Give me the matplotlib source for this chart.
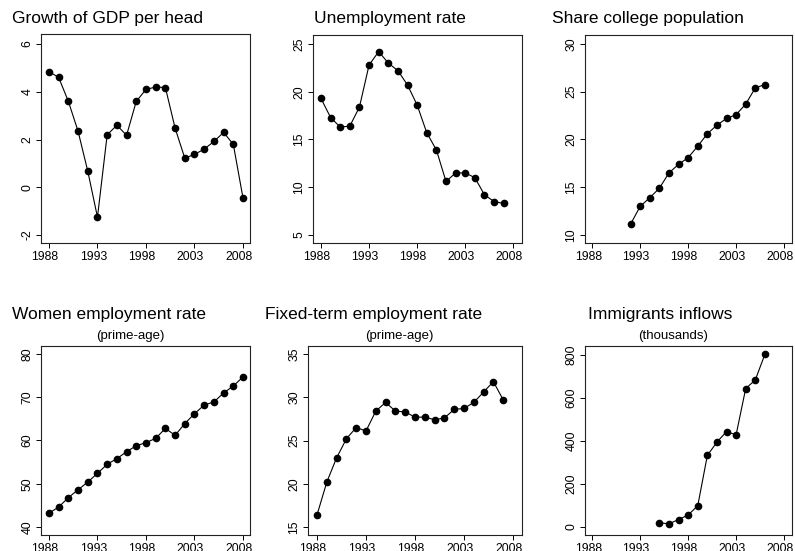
import numpy as np
import matplotlib
matplotlib.use("Agg")
from matplotlib import pyplot as plt
from matplotlib.transforms import ScaledTranslation

plt.rcParams["font.family"] = ["Liberation Sans", "DejaVu Sans"]
plt.rcParams["axes.unicode_minus"] = False

# annual series
gdp_years = list(range(1988, 2009))
gdp_growth = [4.85, 4.6, 3.6, 2.35, 0.68, -1.25, 2.2, 2.6, 2.18, 3.6, 4.1,
              4.2, 4.18, 2.48, 1.22, 1.38, 1.6, 1.92, 2.3, 1.8, -0.45]

unemp_years = list(range(1988, 2008))
unemp_rate = [19.3, 17.3, 16.3, 16.4, 18.4, 22.8, 24.2, 23.0, 22.2, 20.7,
              18.6, 15.7, 13.9, 10.6, 11.5, 11.5, 11.0, 9.2, 8.5, 8.3]

college_years = list(range(1992, 2007))
college_share = [11.15, 13.0, 13.9, 14.9, 16.5, 17.4, 18.1, 19.3, 20.6, 21.5,
                 22.2, 22.6, 23.7, 25.4, 25.75]

women_years = list(range(1988, 2009))
women_emp = [43.2, 44.6, 46.8, 48.6, 50.4, 52.4, 54.5, 55.8, 57.4, 58.8, 59.5,
             60.5, 62.8, 61.2, 63.9, 66.2, 68.2, 68.9, 71.0, 72.6, 74.7]

fixed_years = list(range(1988, 2008))
fixed_emp = [16.4, 20.2, 23.0, 25.2, 26.5, 26.1, 28.4, 29.4, 28.4, 28.3,
             27.7, 27.7, 27.4, 27.6, 28.6, 28.7, 29.4, 30.6, 31.8, 29.7]

immig_years = list(range(1995, 2007))
immig_inflows = [20, 15, 35, 56, 99, 333, 395, 444, 429, 644, 684, 803]

xticks = [1988, 1993, 1998, 2003, 2008]

# (x, y, title, subtitle, yticks, ylim, xlim, axes rect, title centre, subtitle centre)
panels = [
    (gdp_years, gdp_growth, "Growth of GDP per head", None,
     [-2, 0, 2, 4, 6], (-2.33, 6.42), (1987.18, 2008.72),
     [41, 34, 250, 243], (108, 18), None),
    (unemp_years, unemp_rate, "Unemployment rate", None,
     [5, 10, 15, 20, 25], (4.16, 25.94), (1987.17, 2008.9),
     [313, 35, 522, 243], (390, 18), None),
    (college_years, college_share, "Share college population", None,
     [10, 15, 20, 25, 30], (9.16, 30.94), (1987.24, 2008.83),
     [585, 35, 792, 243], (648, 18), None),
    (women_years, women_emp, "Women employment rate", "(prime-age)",
     [40, 50, 60, 70, 80], (38.15, 81.85), (1987.18, 2008.72),
     [41, 346, 250, 535], (109, 315), (130, 336)),
    (fixed_years, fixed_emp, "Fixed-term employment rate", "(prime-age)",
     [15, 20, 25, 30, 35], (14.08, 35.92), (1987.08, 2008.92),
     [308, 346, 522, 535], (374, 315), (399, 336)),
    (immig_years, immig_inflows, "Immigrants inflows", "(thousands)",
     [0, 200, 400, 600, 800], (-37, 842), (1987.24, 2008.83),
     [585, 346, 792, 535], (660, 315), (673, 336)),
]

W, H = 795, 551
fig = plt.figure(figsize=(W / 100, H / 100), dpi=100)
shift = ScaledTranslation(-4 / 100, 0, fig.dpi_scale_trans)

for xs, ys, title, subtitle, yt, ylim, xlim, box, tpos, spos in panels:
    x0, y0, x1, y1 = box
    ax = fig.add_axes([x0 / W, 1 - y1 / H, (x1 - x0) / W, (y1 - y0) / H])
    ax.plot(xs, ys, color="black", linewidth=0.8, marker="o",
            markersize=4.5, markerfacecolor="black", markeredgecolor="black")
    ax.set_xlim(*xlim)
    ax.set_ylim(*ylim)
    ax.set_xticks(xticks)
    ax.set_yticks(yt)
    ax.tick_params(axis="both", direction="out", length=3.5, width=0.7,
                   labelsize=8.8, pad=2, color="black")
    for lbl in ax.get_yticklabels():
        lbl.set_rotation(90)
        lbl.set_va("center")
    for lbl in ax.get_xticklabels():
        lbl.set_transform(lbl.get_transform() + shift)
    for sp in ax.spines.values():
        sp.set_linewidth(0.8)
        sp.set_color("#222222")
    fig.text(tpos[0] / W, 1 - tpos[1] / H, title, ha="center", va="center",
             fontsize=12.5)
    if subtitle:
        fig.text(spos[0] / W, 1 - spos[1] / H, subtitle, ha="center",
                 va="center", fontsize=9.5)

fig.savefig("out.png", dpi=100, facecolor="white")
